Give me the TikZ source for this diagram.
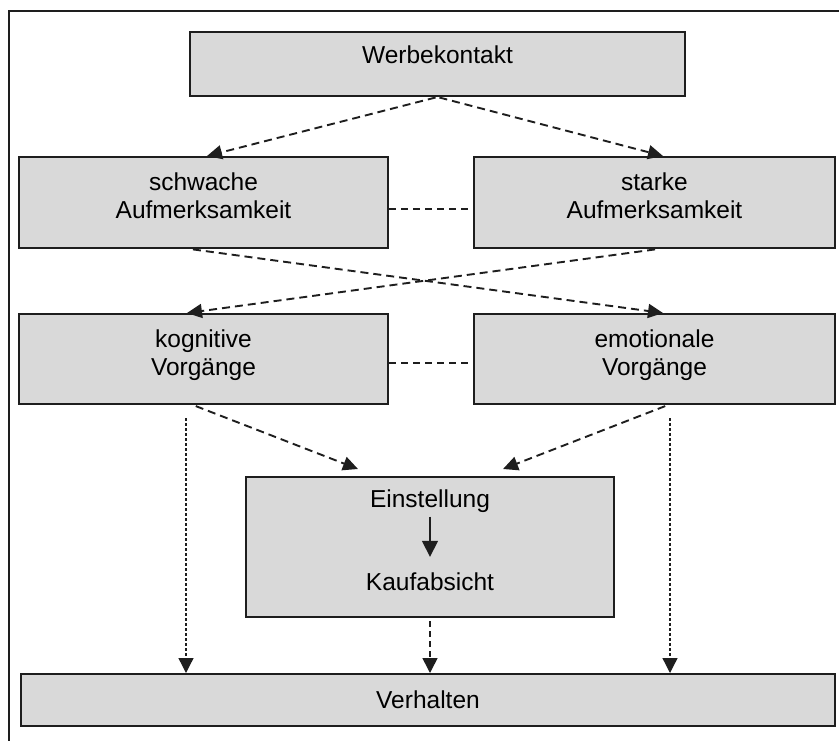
\documentclass[tikz,border=0pt]{standalone}
\usepackage{fontspec}
\setmainfont{Liberation Sans}
\usepackage{xcolor}
\usepackage{tikz}
\definecolor{fondboite}{RGB}{217,217,217}
\definecolor{traitnoir}{RGB}{30,30,30}
\usetikzlibrary{arrows.meta,calc}

\tikzset{
  texte/.style={inner sep=0pt, font=\fontsize{24.5}{28}\selectfont},
  boite/.style={texte, draw=traitnoir, line width=2pt, fill=fondboite, align=center},
  deuxlignes/.style={boite, text depth=13pt},
  fleche/.style={-{Triangle[length=15pt,width=14pt]}, draw=traitnoir, line width=1.9pt, dash pattern=on 8pt off 5pt},
  flechemilieu/.style={-{Triangle[length=15pt,width=15pt]}, draw=traitnoir, line width=1.6pt, dash pattern=on 6pt off 4pt},
  pointille/.style={-{Triangle[length=15pt,width=15pt]}, draw=traitnoir, line width=1.3pt, dash pattern=on 3pt off 2pt},
  lien/.style={draw=traitnoir, line width=1.6pt, dash pattern=on 7pt off 5pt}
}

\begin{document}
\begin{tikzpicture}[x=1pt,y=-1pt]
        \useasboundingbox (0,0) rectangle (839,740);
        \draw[color=traitnoir, line width=1.8pt] (9,760) -- (9,11) -- (870,11);
        % boites
        \node[boite, minimum width=495pt, minimum height=64pt, text depth=18pt] (werbe) at (437.5,64) {Werbekontakt};
        \node[deuxlignes, minimum width=369pt, minimum height=91pt] (schwach) at (203.5,202.5) {schwache\\Aufmerksamkeit};
        \node[deuxlignes, minimum width=361pt, minimum height=91pt] (stark) at (654.5,202.5) {starke\\Aufmerksamkeit};
        \node[deuxlignes, minimum width=369pt, minimum height=90pt] (kogn) at (203.5,359) {kognitive\\Vorgänge};
        \node[deuxlignes, minimum width=361pt, minimum height=90pt] (emot) at (654.5,359) {emotionale\\Vorgänge};
        \node[boite, minimum width=368pt, minimum height=140pt] (einst) at (430,547) {};
        \node[texte] (einstellung) at (430,501) {Einstellung};
        \node[texte] (kauf) at (430,582) {Kaufabsicht};
        \node[boite, minimum width=814pt, minimum height=52pt] (verh) at (428,700) {Verhalten};
        % liens
        \draw[lien] ([yshift=-6.5pt]schwach.east) -- ([yshift=-6.5pt]stark.west);
        \draw[lien] ([yshift=-4pt]kogn.east) -- ([yshift=-4pt]emot.west);
        % fleches
        \draw[fleche, shorten <=2pt] (werbe.south) -- ([xshift=3.5pt]schwach.north);
        \draw[fleche, shorten <=2pt] (werbe.south) -- ([xshift=8.5pt]stark.north);
        \draw[fleche, shorten <=3pt] ([xshift=-13.5pt]schwach.south) -- ([xshift=8.5pt]emot.north);
        \draw[fleche, shorten <=3pt] ([xshift=3.5pt]stark.south) -- ([xshift=-16.5pt]kogn.north);
        \draw[fleche, shorten <=3pt] ([xshift=-10.5pt]kogn.south) -- ($(einst.north)+(-72pt,7pt)$);
        \draw[fleche, shorten <=3pt] ([xshift=13.5pt]emot.south) -- ($(einst.north)+(73pt,7pt)$);
        \draw[-{Triangle[length=16pt,width=16pt]}, draw=traitnoir, line width=1.6pt] ([yshift=-4pt]einstellung.south) -- ([yshift=16pt]kauf.north);
        \draw[pointille] ($(kogn.south)+(-17.5pt,-13pt)$) -- ($(kogn.south |- verh.north)+(-17.5pt,0pt)$);
        \draw[pointille] ($(emot.south)+(15.5pt,-13pt)$) -- ($(emot.south |- verh.north)+(15.5pt,0pt)$);
        \draw[flechemilieu] ([yshift=-3pt]einst.south) -- (einst.south |- verh.north);
\end{tikzpicture}
\end{document}
